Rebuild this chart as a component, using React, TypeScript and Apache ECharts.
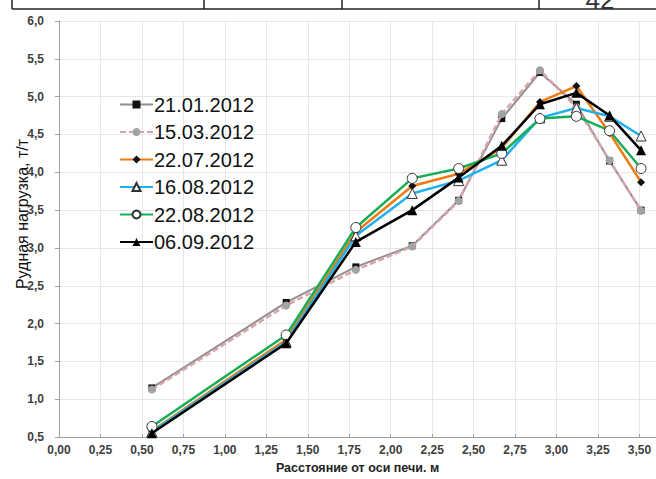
import React, { useEffect, useRef } from "react";
import * as echarts from "echarts";

const xValues = [0.56, 1.37, 1.79, 2.13, 2.41, 2.67, 2.9, 3.12, 3.32, 3.51];
const seriesNames = ["21.01.2012", "15.03.2012", "22.07.2012", "16.08.2012", "22.08.2012", "06.09.2012"];
const s2101 = [1.15, 2.28, 2.75, 3.03, 3.63, 4.71, 5.32, 4.9, 4.15, 3.5];
const s1503 = [1.13, 2.24, 2.71, 3.02, 3.62, 4.77, 5.35, 4.86, 4.16, 3.49];
const s2207 = [0.58, 1.79, 3.21, 3.82, 3.98, 4.32, 4.93, 5.14, 4.52, 3.87];
const s1608 = [0.57, 1.76, 3.16, 3.72, 3.89, 4.16, 4.72, 4.85, 4.74, 4.48];
const s2208 = [0.64, 1.85, 3.27, 3.92, 4.05, 4.25, 4.71, 4.74, 4.55, 4.05];
const s0609 = [0.55, 1.74, 3.08, 3.5, 3.93, 4.35, 4.9, 5.05, 4.75, 4.29];
const yTitle = "Рудная нагрузка, т/т";
const xTitle = "Расстояние от оси печи. м";
const pageNumber = "42";

const pairs = (ys: number[]) => xValues.map((x, i) => [x, ys[i]]);

export default function App() {
  const ref = useRef<HTMLDivElement>(null);
  useEffect(() => {
    if (!ref.current) return;
    const chart = echarts.init(ref.current, null, { renderer: "svg" });
    const font = "Liberation Sans, Arial, sans-serif";
    const mk = (
      idx: number,
      ys: number[],
      symbol: string,
      size: number,
      fill: string,
      border: string | null,
      lineColor: string,
      lineType: any,
      lineWidth: number
    ) => ({
      name: seriesNames[idx],
      type: "line",
      data: pairs(ys),
      symbol,
      symbolSize: size,
      showAllSymbol: true,
      itemStyle: border
        ? { color: fill, borderColor: border, borderWidth: 1 }
        : { color: fill, borderWidth: 0 },
      lineStyle: { color: lineColor, type: lineType, width: lineWidth },
      z: 2 + idx,
    });
    chart.setOption({
      animation: false,
      backgroundColor: "#ffffff",
      textStyle: { fontFamily: font },
      grid: { left: 59, top: 21, width: 598, height: 422 },
      legend: {
        orient: "vertical",
        left: 114,
        top: 89.5,
        itemWidth: 33,
        itemHeight: 10,
        itemGap: 7.5,
        textStyle: { fontSize: 20, lineHeight: 20, color: "#111", fontFamily: font, padding: [0, 0, 0, -4] },
        data: seriesNames,
      },
      xAxis: {
        type: "value",
        min: 0,
        max: 3.6,
        interval: 0.25,
        name: xTitle,
        nameLocation: "middle",
        nameGap: 22,
        nameTextStyle: { fontSize: 12.5, fontWeight: "bold", color: "#222", fontFamily: font },
        axisLine: { onZero: false, lineStyle: { color: "#a0a0a0", width: 1 } },
        axisTick: { show: true, inside: true, length: 3, lineStyle: { color: "#a0a0a0" } },
        axisLabel: {
          showMaxLabel: false,
          margin: 7,
          fontSize: 12,
          fontWeight: "bold",
          color: "#404040",
          formatter: (v: number) => v.toFixed(2).replace(".", ","),
        },
        splitLine: { show: true, lineStyle: { color: "#e6e6e6", width: 1 } },
      },
      yAxis: {
        type: "value",
        min: 0.5,
        max: 6,
        interval: 0.5,
        axisLine: { show: true, onZero: false, lineStyle: { color: "#a0a0a0", width: 1 } },
        axisTick: { show: true, inside: false, length: 4, lineStyle: { color: "#a0a0a0" } },
        axisLabel: {
          margin: 15,
          fontSize: 12,
          fontWeight: "bold",
          color: "#404040",
          formatter: (v: number) => v.toFixed(1).replace(".", ","),
        },
        splitLine: { show: true, lineStyle: { color: "#e6e6e6", width: 1 } },
      },
      graphic: [
        { type: "line", shape: { x1: 12, y1: 9, x2: 656, y2: 9 }, style: { stroke: "#222", lineWidth: 1.5 } },
        { type: "line", shape: { x1: 12, y1: 0, x2: 12, y2: 9 }, style: { stroke: "#222", lineWidth: 1.5 } },
        { type: "line", shape: { x1: 204, y1: 0, x2: 204, y2: 9 }, style: { stroke: "#222", lineWidth: 1.5 } },
        { type: "line", shape: { x1: 342, y1: 0, x2: 342, y2: 9 }, style: { stroke: "#222", lineWidth: 1.5 } },
        { type: "line", shape: { x1: 539, y1: 0, x2: 539, y2: 9 }, style: { stroke: "#222", lineWidth: 1.5 } },
        {
          type: "text",
          x: 600,
          y: 13,
          style: { text: pageNumber, fontSize: 26, fontFamily: font, fill: "#333", align: "center", verticalAlign: "bottom" },
        },
        {
          type: "text",
          x: 22,
          y: 214,
          rotation: Math.PI / 2,
          style: { text: yTitle, fontSize: 16, fontFamily: font, fill: "#111", align: "center", verticalAlign: "middle" },
        },
      ],
      series: [
        mk(0, s2101, "rect", 7, "#111111", null, "#8f8f8f", "solid", 2),
        mk(1, s1503, "circle", 8, "#a3a3a3", null, "#d9a3aa", [6, 3], 2.5),
        mk(2, s2207, "diamond", 8, "#111111", null, "#f07a12", "solid", 2.5),
        mk(3, s1608, "triangle", 10, "#ffffff", "#333333", "#1fb1ee", "solid", 2.5),
        mk(4, s2208, "circle", 10, "#ffffff", "#333333", "#15ad55", "solid", 2.5),
        mk(5, s0609, "triangle", 10, "#000000", null, "#000000", "solid", 2.5),
      ],
    });
    return () => chart.dispose();
  }, []);
  return (
    <div
      ref={ref}
      style={{ position: "fixed", left: 0, top: 0, width: 656, height: 479, background: "#fff" }}
    />
  );
}
